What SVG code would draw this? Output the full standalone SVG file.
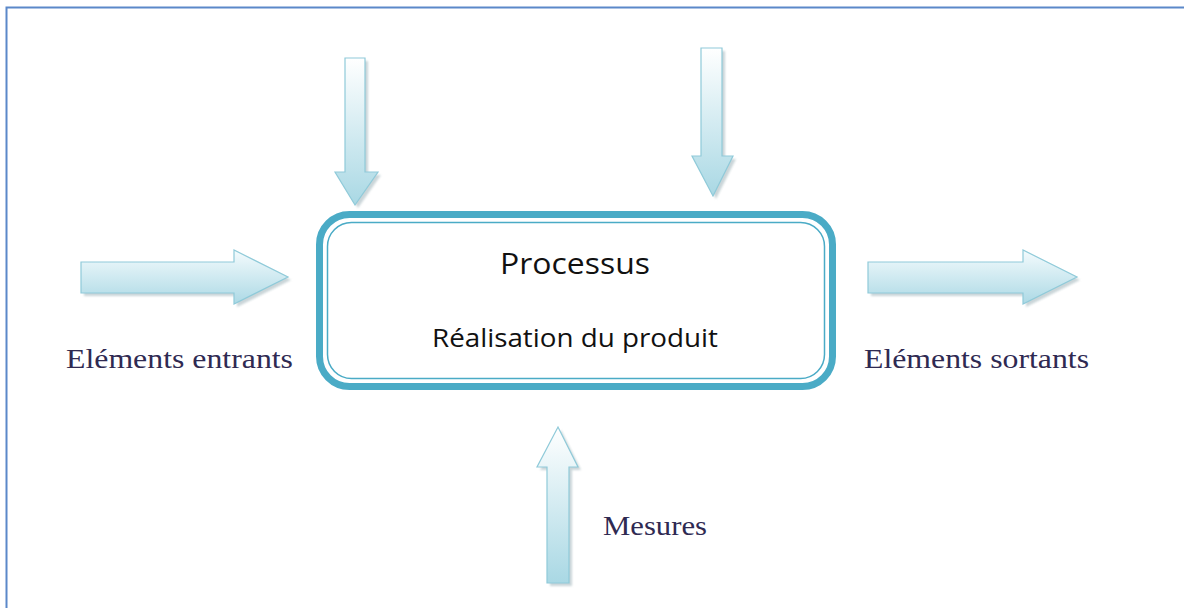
<svg xmlns="http://www.w3.org/2000/svg" width="1184" height="608" viewBox="0 0 1184 608">
<style>
.arrow{stroke:#8fcad9;stroke-width:1.2;stroke-linejoin:miter}
.shadow{fill:#9fb3b9;opacity:0.55}
.lbl{font-family:"Liberation Serif",serif;font-size:28px;fill:#2f2a52}
.box{font-family:"Open Sans","Noto Sans",sans-serif;fill:#111}
</style>
<defs>
<linearGradient id="gv" x1="0" y1="0" x2="0" y2="1">
<stop offset="0" stop-color="#ffffff"/>
<stop offset="1" stop-color="#a9d8e4"/>
</linearGradient>
<linearGradient id="gh" x1="0" y1="0" x2="0" y2="1">
<stop offset="0" stop-color="#f4fbfd"/>
<stop offset="1" stop-color="#acd9e5"/>
</linearGradient>
<filter id="blur" x="-20%" y="-20%" width="140%" height="140%"><feGaussianBlur stdDeviation="1.2"/></filter>
</defs>
<rect x="6.5" y="7.5" width="1200" height="620" fill="#fff" stroke="#5b88c9" stroke-width="2"/>
<g id="connectors">
<g id="arrow-top-left">
<polygon class="shadow" filter="url(#blur)" transform="translate(3,3)" points="345,58 365,58 365,172 378,172 355,205 335,172 345,172"/>
<polygon class="arrow" fill="url(#gv)" points="345,58 365,58 365,172 378,172 355,205 335,172 345,172"/>
</g>
<g id="arrow-top-right">
<polygon class="shadow" filter="url(#blur)" transform="translate(3,3)" points="701,48 722,48 722,156 733,156 713,196 692,156 701,156"/>
<polygon class="arrow" fill="url(#gv)" points="701,48 722,48 722,156 733,156 713,196 692,156 701,156"/>
</g>
<g id="arrow-left">
<polygon class="shadow" filter="url(#blur)" transform="translate(3,3)" points="81,262 234,262 234,250 288,277 234,304 234,293 81,293"/>
<polygon class="arrow" fill="url(#gh)" points="81,262 234,262 234,250 288,277 234,304 234,293 81,293"/>
</g>
<g id="arrow-right">
<polygon class="shadow" filter="url(#blur)" transform="translate(3,3)" points="868,262 1023,262 1023,250 1077,277 1023,304 1023,293 868,293"/>
<polygon class="arrow" fill="url(#gh)" points="868,262 1023,262 1023,250 1077,277 1023,304 1023,293 868,293"/>
</g>
<g id="arrow-bottom">
<polygon class="shadow" filter="url(#blur)" transform="translate(3,3)" points="547,583 569,583 569,467 578,467 558,427 537,467 547,467"/>
<polygon class="arrow" fill="url(#gv)" points="547,583 569,583 569,467 578,467 558,427 537,467 547,467"/>
</g>
</g>
<g id="processus">
<rect x="319.5" y="214.5" width="513" height="172" rx="30" ry="30" fill="#fff" stroke="#4aabc6" stroke-width="7"/>
<rect x="327.5" y="222.5" width="497" height="156" rx="24" ry="24" fill="none" stroke="#4aabc6" stroke-width="1.5"/>
<text class="box" x="500" y="274" font-size="30" textLength="150" lengthAdjust="spacingAndGlyphs">Processus</text>
<text class="box" x="432" y="347" font-size="25" textLength="286" lengthAdjust="spacingAndGlyphs">Réalisation du produit</text>
</g>
<g id="entrants"><text class="lbl" x="66" y="368" textLength="227" lengthAdjust="spacingAndGlyphs">Eléments entrants</text></g>
<g id="sortants"><text class="lbl" x="864" y="368" textLength="225" lengthAdjust="spacingAndGlyphs">Eléments sortants</text></g>
<g id="mesures"><text class="lbl" x="603" y="535" textLength="104" lengthAdjust="spacingAndGlyphs">Mesures</text></g>
</svg>
